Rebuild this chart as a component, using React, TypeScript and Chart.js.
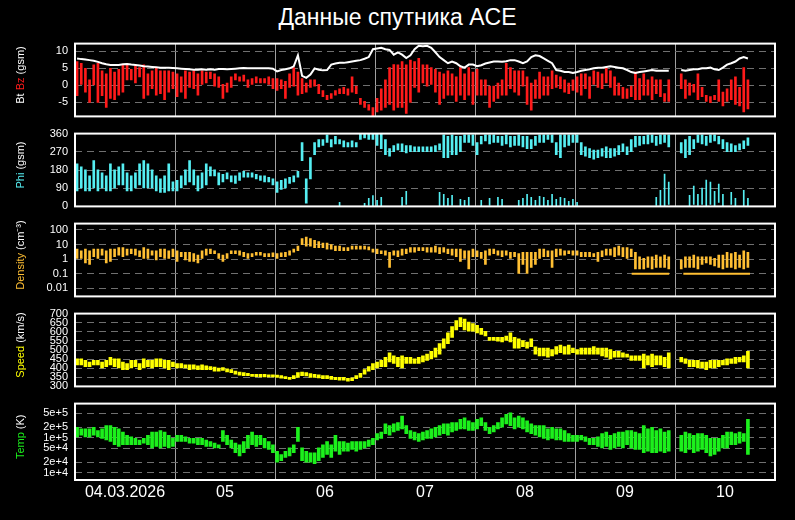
import React, { useEffect, useRef } from "react";
import { Chart, registerables } from "chart.js";

Chart.register(...registerables);

const FONT = '"Liberation Sans", Arial, Helvetica, sans-serif';
Chart.defaults.font.family = FONT;

const TITLE = "Данные спутника ACE";

// x axis: hours since 04.03.2026 00:00 (UT); values are hourly samples
const DAY_TICKS = [0, 24, 48, 72, 96, 120, 144, 168];
const DAY_LABELS = ["04.03.2026", "05", "06", "07", "08", "09", "10", ""];

const BZ_TICKS = [-5, 0, 5, 10];
const PHI_TICKS = [0, 90, 180, 270, 360];
const DENS_TICKS = [0.01, 0.1, 1, 10, 100];
const DENS_TICK_LABELS = ["0.01", "0.1", "1", "10", "100"];
const SPD_TICKS = [300, 350, 400, 450, 500, 550, 600, 650, 700];
const TEMP_TICKS = [1e4, 2e4, 5e4, 1e5, 2e5, 5e5];
const TEMP_TICK_LABELS = ["1e+4", "2e+4", "5e+4", "1e+5", "2e+5", "5e+5"];

// Bt (nT), hourly
const BT = [
  7.9, 7.7, 7.6, 7.4, 7.2, 6.9, 6.5, 6.2, 6.0, 6.0,
  6.0, 6.2, 6.3, 6.1, 6.0, 5.8, 5.6, 5.5, 5.4, 5.3,
  5.2, 5.2, 5.2, 5.1, 5.0, 4.9, 4.8, 4.7, 4.6, 4.6,
  4.7, 4.6, 4.7, 4.6, 4.8, 4.8, 4.7, 4.8, 4.9, 5.0,
  5.1, 5.0, 5.0, 5.0, 5.0, 5.0, 5.0, 4.9, 4.1, 4.5,
  4.7, 5.0, 5.6, 8.8, 2.8, 2.2, 3.2, 5.0, 4.6, 4.4,
  4.5, 6.1, 6.4, 6.6, 6.6, 6.8, 7.0, 7.2, 7.4, 7.8,
  8.3, 10.6, 10.8, 11.0, 10.6, 10.4, 9.0, 9.7, 9.0, 8.0,
  8.8, 10.6, 11.6, 11.5, 11.6, 11.0, 9.7, 8.3, 7.4, 6.5,
  7.0, 6.5, 5.6, 5.2, 6.1, 6.1, 5.6, 5.9, 6.4, 6.7,
  7.0, 7.0, 6.9, 7.1, 7.4, 7.4, 7.0, 6.5, 7.0, 8.3,
  8.8, 8.6, 7.9, 7.2, 6.5, 4.5, 4.3, 3.9, 3.9, 3.6,
  3.9, 4.3, 4.5, 4.7, 5.0, 5.2, 5.2, 5.4, 5.6, 5.4,
  5.2, 5.0, 4.5, 3.9, 3.6, 3.9, 4.1, 4.3, 4.5, 4.3,
  4.3, 4.3, 4.3, null, null, 4.5, 4.3, 4.5, 4.7, 4.7,
  5.0, 5.0, 5.2, 4.7, 4.5, 5.2, 6.1, 6.5, 7.0, 7.9,
  8.3, 7.9,
];

// Bz (nT), hourly min / max
const BZ_LO = [
  -3, 0.3, -2, -5, 0, -5, -3, -6.5, -3.8, -4.2,
  -2.9, -2, 1.6, 1.6, 0.7, 2.5, -3.8, -2.9, -1, -2.9,
  -2.4, -4.2, -2, -1, -3.3, -2, -3.8, -0.6, -1, -2.9,
  0.3, 0.7, 2, -0.2, -0.6, -3.8, -2, -0.6, 1.6, 1.2,
  1.2, -0.6, 0.3, 0.7, 0.7, 0.7, 0.3, -1, -1.5, -1,
  -3.8, -0.6, -0.2, -2.9, -2.4, -2, -0.6, -0.2, -2.4, -3.3,
  -4.2, -3.8, -2.9, -2.4, -2.4, -2.9, -2, -2.4, -5.6, -6.5,
  -7.3, -9, -7.8, -7.3, -6.5, -5.6, -7.3, -6.5, -6.5, -8.2,
  -5, -0.6, -2, 0.7, -0.2, 0.3, -2, -5.6, -3.8, -2.9,
  -2.9, -4.7, -2.9, -4.2, -2.9, -5.6, -2.9, -2.9, -2.9, -6.5,
  -4.7, -3.8, -2.9, -2.9, -1, -2, -2.9, -0.2, -5.6, -7.3,
  -3.8, -3.8, -2.9, -2.9, -1, -0.6, -1, -2, -2.4, -1.5,
  -2, -2.9, -1, -3.8, 0.3, -0.6, -1, 0.7, -0.6, -2.9,
  -2.9, -3.8, -3.8, -3.3, -4.2, -4.2, -2.9, -2.9, -4.2, -2.4,
  -3.3, -4.7, -4.7, null, null, -1, -3.8, -2.9, -2, -4.2,
  -3.3, -4.7, -5.1, -4.2, -4.7, -6, -4.7, -4.2, -5.6, -6,
  -7.8, -6.9,
];
const BZ_HI = [
  7, 6.5, 5, 1.6, 6, 6.5, 4.3, 3.4, 5, 3.9,
  4.7, 6, 6, 4.7, 5.6, 5.2, 6, 3.4, 4.3, 5.2,
  4.3, 4.3, 4.3, 3.9, 3.4, 2.5, 4.3, 3.9, 4.3, 3.4,
  4.3, 3.9, 3.9, 3.4, 2.5, 0.3, 0.7, 2.5, 3.4, 2.5,
  3, 1.6, 2, 2.5, 2, 2, 2.5, 2, 2, 1.6,
  1.2, 3.4, 5.2, 3.9, 2, 0.7, 1.6, 1.6, 0.3, -1.5,
  -2.9, -2.4, -1.5, -1, -0.6, -1, 2.5, -0.2, -3.8, -4.7,
  -5.6, -6.5, -3.8, -1, 1.6, 5.2, 6.1, 6, 7, 6,
  7.4, 7, 7.9, 6, 6, 5.2, 4.7, 3.9, 3.4, 4.3,
  3.4, 2.5, 5.2, 3.4, 5.2, 3.9, 4.7, 1.6, 1.6, -0.2,
  -0.2, 0.7, 1.6, 6.5, 5.2, 4.3, 4.3, 4.3, 2.5, 0.7,
  1.6, 3.9, 2.5, 2.5, 4.3, 3, 2.5, 1.6, 0.7, 1.6,
  2.5, 3.4, 3.4, 2.5, 4.3, 3.9, 3.4, 5.2, 4.3, 2.5,
  0.7, -0.6, -1, -0.2, 3.9, 2, 3.4, 1.6, 2.5, 1.6,
  1.6, -2.4, 1.6, null, null, 3.4, 1.6, 0.7, 0.3, 3.4,
  -0.6, -2.9, -3.3, -2.9, 1.6, -2, -1, 1.6, 2.5, -0.6,
  5.2, 1.6,
];

// Phi (deg), hourly min / max of the main cluster
const PHI_LO = [
  76, 91, 76, 76, 91, 76, 91, 76, 76, 91,
  106, 106, 76, 76, 91, 106, 91, 91, 91, 76,
  69, 69, 76, 76, 76, 91, 106, 121, 106, 76,
  91, 106, 151, 151, 106, 121, 136, 121, 114, 129,
  144, 144, 144, 136, 129, 121, 121, 106, 69, 84,
  91, 114, 121, 144, 226, 16, 136, 256, 294, 301,
  316, 294, 309, 309, 294, 294, 294, 294, 331, 339,
  331, 331, 301, 286, 256, 249, 271, 279, 271, 264,
  271, 271, 271, 271, 271, 271, 271, 279, 241, 241,
  256, 256, 271, 316, 316, 301, 256, 309, 324, 309,
  316, 316, 301, 309, 294, 301, 301, 294, 286, 286,
  301, 316, 316, 331, 316, 256, 241, 294, 301, 316,
  316, 256, 249, 241, 234, 241, 249, 241, 241, 249,
  256, 271, 256, 271, 294, 301, 309, 309, 316, 301,
  309, 316, 294, null, null, 264, 241, 256, 286, 316,
  309, 301, 316, 324, 309, 286, 271, 271, 271, 279,
  286, 301,
];
const PHI_HI = [
  211, 196, 181, 151, 226, 181, 166, 151, 211, 181,
  196, 211, 166, 151, 166, 211, 226, 211, 181, 151,
  136, 151, 211, 121, 129, 151, 181, 226, 181, 151,
  166, 211, 196, 181, 166, 159, 166, 151, 151, 166,
  174, 166, 166, 159, 151, 151, 144, 136, 121, 129,
  136, 144, 151, 174, 316, 136, 241, 316, 331, 331,
  354, 331, 346, 331, 324, 316, 324, 316, 360, 360,
  360, 360, 360, 360, 331, 286, 301, 309, 309, 301,
  301, 294, 294, 294, 294, 294, 301, 309, 354, 346,
  354, 346, 346, 354, 354, 354, 316, 346, 354, 354,
  354, 346, 346, 354, 346, 346, 354, 346, 346, 331,
  346, 354, 354, 354, 354, 316, 354, 354, 354, 354,
  354, 316, 294, 286, 279, 279, 286, 294, 286, 286,
  301, 309, 294, 331, 346, 346, 346, 354, 354, 346,
  354, 354, 354, null, null, 316, 331, 346, 331, 354,
  354, 346, 354, 354, 346, 331, 316, 309, 301, 309,
  324, 339,
];
// Phi values wrapped past 360 (shown near 0)
const PHI_LOW_HOURS = [
  63, 69, 70, 71, 72, 73, 78, 79, 87, 88, 89, 90, 92, 93, 94, 97, 99, 101, 102,
  106, 107, 108, 109, 110, 111, 112, 113, 114, 115, 116, 117, 118, 119, 120,
  139, 140, 141, 142, 147, 148, 149, 150, 151, 152, 153, 154, 155, 157, 158, 160, 161,
];
const PHI_LOW_LO = [
  3, 3, 5, 3, 3, 3, 3, 10, 3, 3, 3, 5, 3, 3, 3, 3, 5, 3, 3,
  3, 3, 3, 3, 3, 3, 3, 3, 3, 3, 3, 3, 3, 3, 3,
  5, 3, 3, 10, 3, 10, 5, 10, 3, 10, 3, 20, 3, 10, 3, 3, 3,
];
const PHI_LOW_HI = [
  20, 15, 40, 54, 30, 45, 45, 75, 70, 60, 40, 55, 35, 30, 45, 30, 40, 45, 35,
  30, 40, 60, 45, 30, 50, 45, 30, 60, 35, 45, 40, 25, 35, 20,
  45, 80, 160, 120, 55, 100, 60, 90, 130, 120, 75, 110, 60, 70, 40, 80, 40,
];

// Density (cm^-3), hourly min / max
const DENS_LO = [
  1.15, 1.15, 0.56, 0.44, 1.47, 1.15, 1.9, 0.56, 0.71, 1.47,
  1.9, 1.47, 1.9, 2.4, 1.9, 1.47, 1.15, 1.15, 1.9, 0.91,
  1.47, 1.15, 1.15, 1.47, 0.71, 1.47, 0.91, 0.71, 0.71, 0.56,
  1.15, 1.9, 2.4, 2.4, 1.15, 0.71, 1.15, 2.4, 2.4, 1.9,
  1.47, 1.15, 1.47, 1.9, 1.9, 1.47, 1.47, 1.47, 1.15, 1.47,
  1.47, 1.9, 3.0, 3.8, 10, 7.9, 7.9, 6.2, 6.2, 6.2,
  4.9, 4.9, 3.8, 3.8, 3.8, 3.8, 4.9, 4.9, 4.9, 4.9,
  4.4, 3.0, 2.4, 2.4, 1.9, 0.27, 1.9, 1.47, 1.9, 2.4,
  3.0, 3.0, 3.8, 3.8, 3.0, 3.0, 3.0, 2.4, 3.0, 2.4,
  1.9, 1.47, 0.71, 1.15, 0.22, 1.47, 1.47, 1.15, 0.44, 1.9,
  2.4, 1.9, 1.47, 1.9, 1.15, 1.47, 0.105, 0.44, 0.105, 0.27,
  0.44, 1.15, 1.47, 1.47, 0.27, 1.47, 1.9, 1.9, 2.4, 1.9,
  1.9, 1.47, 1.47, 1.47, 1.47, 0.71, 1.47, 1.9, 1.9, 1.47,
  1.9, 1.47, 1.15, 1.47, 0.22, 0.22, 0.22, 0.27, 0.22, 0.27,
  0.27, 0.27, 0.22, null, null, 0.22, 0.27, 0.27, 0.27, 0.22,
  0.44, 0.56, 0.44, 0.35, 0.27, 0.22, 0.27, 0.27, 0.22, 0.27,
  0.22, 0.27,
];
const DENS_HI = [
  4.9, 3.8, 4.9, 3.8, 4.9, 4.9, 4.9, 3.8, 4.9, 4.9,
  6.2, 6.2, 4.9, 4.9, 4.9, 3.8, 6.2, 4.9, 3.8, 3.8,
  4.9, 4.9, 3.8, 4.9, 3.8, 3.0, 3.0, 3.0, 2.4, 1.9,
  3.8, 4.9, 4.9, 3.8, 2.4, 1.9, 2.4, 3.8, 3.8, 3.8,
  3.0, 2.4, 2.4, 3.0, 3.0, 2.4, 2.4, 2.7, 2.4, 2.7,
  3.0, 3.8, 4.9, 7.9, 26, 33, 26, 20, 16, 12.7,
  12.7, 10, 7.9, 7.9, 6.2, 6.2, 7.9, 7.9, 7.9, 7.9,
  7.0, 4.9, 4.9, 3.8, 3.8, 3.0, 3.8, 3.8, 4.9, 4.9,
  6.2, 6.2, 6.2, 6.2, 6.2, 6.2, 7.9, 6.2, 6.2, 4.9,
  4.9, 4.9, 4.9, 3.8, 3.8, 4.9, 3.8, 3.0, 3.8, 4.9,
  4.9, 3.8, 3.8, 3.8, 3.0, 3.0, 2.4, 3.0, 3.0, 3.0,
  3.0, 4.9, 4.9, 3.8, 3.8, 4.9, 4.9, 3.8, 3.8, 3.8,
  3.8, 3.0, 3.0, 3.0, 2.4, 3.0, 3.8, 4.9, 4.9, 6.2,
  7.9, 6.2, 6.2, 4.9, 3.0, 1.47, 1.15, 1.47, 1.47, 1.9,
  1.47, 1.9, 1.47, null, null, 0.91, 1.47, 1.47, 1.9, 1.47,
  1.47, 1.47, 1.47, 1.15, 1.9, 1.9, 3.0, 2.4, 3.0, 1.9,
  3.8, 3.0,
];
// density floor readings (0.1 cm^-3) seen on 09 and 10
const DENS_FLOOR_START = [133.6, 146];
const DENS_FLOOR_END = [142.6, 162];
const DENS_FLOOR_VALUE = [0.1, 0.1];

// Speed (km/s), hourly min / max
const SPD_LO = [
  418, 418, 409, 409, 418, 418, 401, 409, 418, 409,
  401, 392, 392, 401, 409, 392, 401, 409, 401, 409,
  409, 401, 392, 409, 401, 401, 401, 392, 395, 392,
  392, 392, 392, 384, 384, 388, 379, 376, 367, 362,
  359, 359, 355, 354, 352, 352, 352, 352, 349, 345,
  342, 339, 342, 350, 359, 357, 350, 350, 347, 342,
  342, 339, 337, 334, 334, 329, 331, 342, 350, 367,
  384, 392, 401, 409, 409, 434, 426, 409, 401, 426,
  426, 426, 426, 434, 443, 451, 460, 477, 510, 535,
  569, 611, 628, 611, 603, 603, 594, 586, 577, 552,
  552, 548, 544, 552, 544, 510, 510, 518, 510, 518,
  477, 468, 468, 460, 468, 477, 485, 477, 477, 485,
  477, 477, 477, 477, 477, 477, 468, 460, 451, 460,
  460, 460, 460, 443, 443, 443, 401, 418, 409, 418,
  418, 409, 401, null, null, 434, 426, 409, 409, 401,
  401, 392, 401, 401, 409, 418, 418, 426, 426, 434,
  434, 401,
];
const SPD_HI = [
  451, 451, 443, 434, 443, 443, 434, 443, 460, 451,
  451, 434, 426, 443, 443, 426, 451, 443, 443, 451,
  451, 443, 443, 434, 426, 426, 418, 418, 418, 413,
  418, 413, 409, 406, 401, 404, 396, 392, 384, 379,
  376, 372, 367, 367, 366, 366, 364, 364, 362, 359,
  354, 350, 359, 376, 379, 376, 371, 367, 364, 359,
  359, 355, 350, 350, 350, 345, 347, 359, 372, 392,
  409, 426, 434, 443, 460, 485, 468, 460, 468, 460,
  460, 451, 460, 468, 477, 493, 510, 535, 561, 594,
  628, 661, 678, 670, 653, 645, 636, 619, 603, 569,
  569, 569, 569, 577, 594, 569, 561, 552, 544, 561,
  518, 510, 510, 510, 502, 519, 527, 519, 527, 510,
  502, 510, 510, 510, 519, 510, 510, 510, 502, 493,
  493, 485, 477, 468, 468, 468, 477, 468, 477, 468,
  468, 460, 485, null, null, 460, 451, 443, 443, 443,
  434, 434, 443, 443, 443, 443, 451, 451, 460, 460,
  468, 493,
];

// Temperature (K), hourly min / max
const TEMP_LO = [
  106e3, 118e3, 106e3, 106e3, 118e3, 106e3, 96e3, 86e3, 78e3, 63e3,
  56e3, 63e3, 63e3, 63e3, 63e3, 63e3, 70e3, 63e3, 51e3, 56e3,
  51e3, 56e3, 51e3, 56e3, 78e3, 78e3, 78e3, 70e3, 70e3, 63e3,
  63e3, 56e3, 56e3, 51e3, 51e3, 78e3, 63e3, 51e3, 37e3, 30e3,
  37e3, 51e3, 63e3, 56e3, 63e3, 51e3, 46e3, 37e3, 20e3, 22e3,
  27e3, 30e3, 37e3, 78e3, 22e3, 20e3, 20e3, 18e3, 22e3, 27e3,
  33e3, 27e3, 41e3, 33e3, 41e3, 41e3, 46e3, 41e3, 46e3, 51e3,
  56e3, 63e3, 86e3, 96e3, 131e3, 118e3, 146e3, 162e3, 180e3, 131e3,
  96e3, 86e3, 78e3, 86e3, 96e3, 96e3, 106e3, 118e3, 131e3, 118e3,
  146e3, 162e3, 180e3, 180e3, 162e3, 162e3, 180e3, 223e3, 162e3, 131e3,
  146e3, 180e3, 200e3, 250e3, 223e3, 180e3, 200e3, 180e3, 146e3, 131e3,
  118e3, 106e3, 96e3, 86e3, 96e3, 86e3, 86e3, 78e3, 78e3, 78e3,
  78e3, 86e3, 78e3, 63e3, 63e3, 56e3, 51e3, 56e3, 46e3, 51e3,
  56e3, 51e3, 63e3, 51e3, 46e3, 46e3, 37e3, 41e3, 37e3, 37e3,
  41e3, 37e3, 41e3, null, null, 41e3, 37e3, 46e3, 37e3, 41e3,
  46e3, 37e3, 30e3, 33e3, 41e3, 51e3, 51e3, 63e3, 63e3, 70e3,
  78e3, 33e3,
];
const TEMP_HI = [
  200e3, 180e3, 180e3, 180e3, 200e3, 162e3, 180e3, 223e3, 223e3, 200e3,
  180e3, 146e3, 118e3, 106e3, 96e3, 86e3, 96e3, 118e3, 146e3, 146e3,
  162e3, 146e3, 118e3, 96e3, 118e3, 118e3, 106e3, 96e3, 96e3, 96e3,
  96e3, 86e3, 78e3, 70e3, 63e3, 162e3, 118e3, 86e3, 70e3, 63e3,
  78e3, 118e3, 146e3, 118e3, 118e3, 96e3, 78e3, 63e3, 41e3, 33e3,
  41e3, 51e3, 63e3, 200e3, 51e3, 41e3, 37e3, 37e3, 51e3, 63e3,
  78e3, 63e3, 118e3, 78e3, 78e3, 70e3, 78e3, 78e3, 78e3, 78e3,
  86e3, 96e3, 131e3, 146e3, 250e3, 223e3, 250e3, 275e3, 420e3, 223e3,
  162e3, 146e3, 131e3, 146e3, 162e3, 180e3, 200e3, 223e3, 250e3, 250e3,
  275e3, 275e3, 340e3, 375e3, 305e3, 275e3, 340e3, 375e3, 275e3, 200e3,
  223e3, 275e3, 375e3, 470e3, 520e3, 375e3, 420e3, 375e3, 305e3, 250e3,
  223e3, 223e3, 223e3, 180e3, 200e3, 180e3, 180e3, 162e3, 131e3, 118e3,
  118e3, 118e3, 106e3, 96e3, 96e3, 106e3, 131e3, 146e3, 118e3, 131e3,
  146e3, 146e3, 162e3, 162e3, 146e3, 131e3, 223e3, 180e3, 200e3, 162e3,
  180e3, 146e3, 162e3, null, null, 118e3, 146e3, 131e3, 118e3, 131e3,
  131e3, 118e3, 96e3, 96e3, 96e3, 118e3, 146e3, 146e3, 131e3, 146e3,
  131e3, 340e3,
];

const WHITE = "#ffffff";
const RED = "#ff1a1a";
const CYAN = "#55eef2";
const ORANGE = "#ffbf33";
const YELLOW = "#ffff00";
const GREEN = "#1cf01c";

type Part = [string, string];

function rangeData(lo: (number | null)[], hi: (number | null)[], hours?: number[]) {
  const out: any[] = [];
  for (let i = 0; i < lo.length; i++) {
    const a = lo[i];
    const b = hi[i];
    if (a == null || b == null) continue;
    out.push({ x: (hours ? hours[i] : i) + 0.5, y: [a, b] });
  }
  return out;
}

function pointData(vals: (number | null)[]) {
  return vals.map((v, i) => ({ x: i + 0.5, y: v }));
}

function segmentData(starts: number[], ends: number[], vals: number[]) {
  const out: any[] = [];
  starts.forEach((s, i) => {
    if (i > 0) out.push({ x: (ends[i - 1] + s) / 2, y: null });
    out.push({ x: s, y: vals[i] });
    out.push({ x: ends[i], y: vals[i] });
  });
  return out;
}

function bars(data: any[], color: string, thickness: number, order = 1) {
  return {
    type: "bar",
    data,
    backgroundColor: color,
    borderWidth: 0,
    barThickness: thickness,
    minBarLength: 2,
    grouped: false,
    order,
  };
}

type PanelCfg = {
  top: number;
  height: number;
  bottomAxis: boolean;
  yType: string;
  min: number;
  max: number;
  ticks: number[];
  labels: string[] | null;
  title: Part[];
  datasets: () => any[];
};

const PANELS: PanelCfg[] = [
  {
    top: 30, height: 100, bottomAxis: false, yType: "linear", min: -9.1, max: 12.25,
    ticks: BZ_TICKS, labels: null,
    title: [["Bt ", WHITE], ["Bz", RED], [" (gsm)", WHITE]],
    datasets: () => [
      { type: "line", data: pointData(BT), borderColor: WHITE, borderWidth: 2, pointRadius: 0, spanGaps: false, order: 0 },
      bars(rangeData(BZ_LO, BZ_HI), RED, 2, 1),
    ],
  },
  {
    top: 120, height: 100, bottomAxis: false, yType: "linear", min: 0, max: 360,
    ticks: PHI_TICKS, labels: null,
    title: [["Phi", CYAN], [" (gsm)", WHITE]],
    datasets: () => [
      bars(rangeData(PHI_LO, PHI_HI), CYAN, 2, 1),
      bars(rangeData(PHI_LOW_LO, PHI_LOW_HI, PHI_LOW_HOURS), CYAN, 1, 2),
    ],
  },
  {
    top: 210, height: 100, bottomAxis: false, yType: "logarithmic", min: 0.00286, max: 274,
    ticks: DENS_TICKS, labels: DENS_TICK_LABELS,
    title: [["Density", ORANGE], [" (cm⁻³)", WHITE]],
    datasets: () => [
      bars(rangeData(DENS_LO, DENS_HI), ORANGE, 2, 1),
      { type: "line", data: segmentData(DENS_FLOOR_START, DENS_FLOOR_END, DENS_FLOOR_VALUE), borderColor: ORANGE, borderWidth: 2, pointRadius: 0, spanGaps: false, order: 2 },
    ],
  },
  {
    top: 300, height: 100, bottomAxis: false, yType: "linear", min: 300, max: 700,
    ticks: SPD_TICKS, labels: null,
    title: [["Speed", YELLOW], [" (km/s)", WHITE]],
    datasets: () => [bars(rangeData(SPD_LO, SPD_HI), YELLOW, 3, 1)],
  },
  {
    top: 390, height: 130, bottomAxis: true, yType: "logarithmic", min: 6100, max: 960000,
    ticks: TEMP_TICKS, labels: TEMP_TICK_LABELS,
    title: [["Temp", GREEN], [" (K)", WHITE]],
    datasets: () => [bars(rangeData(TEMP_LO, TEMP_HI), GREEN, 3, 1)],
  },
];

const boxPlugin = {
  id: "panelBox",
  afterDraw(chart: any) {
    const { ctx, chartArea: a } = chart;
    ctx.save();
    ctx.strokeStyle = "#ffffff";
    ctx.lineWidth = 2;
    ctx.strokeRect(a.left, a.top, a.right - a.left, a.bottom - a.top);
    ctx.restore();
  },
};

function titlePlugin(parts: Part[]) {
  return {
    id: "yTitle",
    afterDraw(chart: any) {
      const { ctx, chartArea: a } = chart;
      ctx.save();
      ctx.font = `11px ${FONT}`;
      const widths = parts.map((p) => ctx.measureText(p[0]).width);
      const total = widths.reduce((s, w) => s + w, 0);
      const cy = (a.top + a.bottom) / 2 - 5;
      ctx.translate(21, cy);
      ctx.rotate(-Math.PI / 2);
      ctx.textBaseline = "middle";
      ctx.textAlign = "left";
      let x = -total / 2;
      parts.forEach((p, i) => {
        ctx.fillStyle = p[1];
        ctx.fillText(p[0], x, 0);
        x += widths[i];
      });
      ctx.restore();
    },
  };
}

function buildConfig(p: PanelCfg): any {
  return {
    type: "bar",
    data: { datasets: p.datasets() },
    plugins: [boxPlugin, titlePlugin(p.title)],
    options: {
      responsive: false,
      maintainAspectRatio: false,
      animation: false,
      events: [],
      layout: { padding: { left: 0, right: 20, top: 10, bottom: p.bottomAxis ? 0 : 10 } },
      plugins: { legend: { display: false }, tooltip: { enabled: false }, title: { display: false } },
      scales: {
        x: {
          type: "linear",
          min: 0,
          max: 168,
          offset: false,
          afterBuildTicks: (s: any) => {
            s.ticks = DAY_TICKS.map((v) => ({ value: v }));
          },
          afterFit: (s: any) => {
            s.height = p.bottomAxis ? 40 : 0;
          },
          grid: { color: "#a0a0a0", lineWidth: 1, drawTicks: false, offset: false },
          border: { display: false },
          ticks: {
            display: p.bottomAxis,
            autoSkip: false,
            maxRotation: 0,
            minRotation: 0,
            labelOffset: 50,
            padding: 3,
            color: "#ffffff",
            font: { size: 16, family: FONT },
            callback: (_v: any, i: number) => DAY_LABELS[i],
          },
        },
        y: {
          type: p.yType,
          min: p.min,
          max: p.max,
          afterBuildTicks: (s: any) => {
            s.ticks = p.ticks.map((v) => ({ value: v }));
          },
          afterFit: (s: any) => {
            s.width = 75;
          },
          grid: { color: "#707070", lineWidth: 1, drawTicks: false },
          border: { display: false, dash: [7, 5] },
          ticks: {
            color: "#ffffff",
            autoSkip: false,
            padding: 7,
            font: { size: 11, family: FONT },
            callback: (v: any, i: number) => (p.labels ? p.labels[i] : String(v)),
          },
        },
      },
    },
  };
}

function Panel({ cfg }: { cfg: PanelCfg }) {
  const ref = useRef<HTMLCanvasElement | null>(null);
  useEffect(() => {
    if (!ref.current) return;
    const chart = new Chart(ref.current, buildConfig(cfg));
    return () => chart.destroy();
  }, [cfg]);
  return (
    <canvas
      ref={ref}
      width={795}
      height={cfg.height}
      style={{ position: "absolute", left: 0, top: cfg.top, width: 795, height: cfg.height }}
    />
  );
}

export default function App() {
  return (
    <div
      style={{
        position: "fixed",
        left: 0,
        top: 0,
        width: 795,
        height: 520,
        background: "#000000",
        overflow: "hidden",
      }}
    >
      <div
        style={{
          position: "absolute",
          left: 0,
          top: 0,
          width: 795,
          height: 34,
          lineHeight: "34px",
          textAlign: "center",
          color: "#ffffff",
          fontFamily: FONT,
          fontSize: 23,
        }}
      >
        {TITLE}
      </div>
      {PANELS.map((p, i) => (
        <Panel key={i} cfg={p} />
      ))}
    </div>
  );
}
